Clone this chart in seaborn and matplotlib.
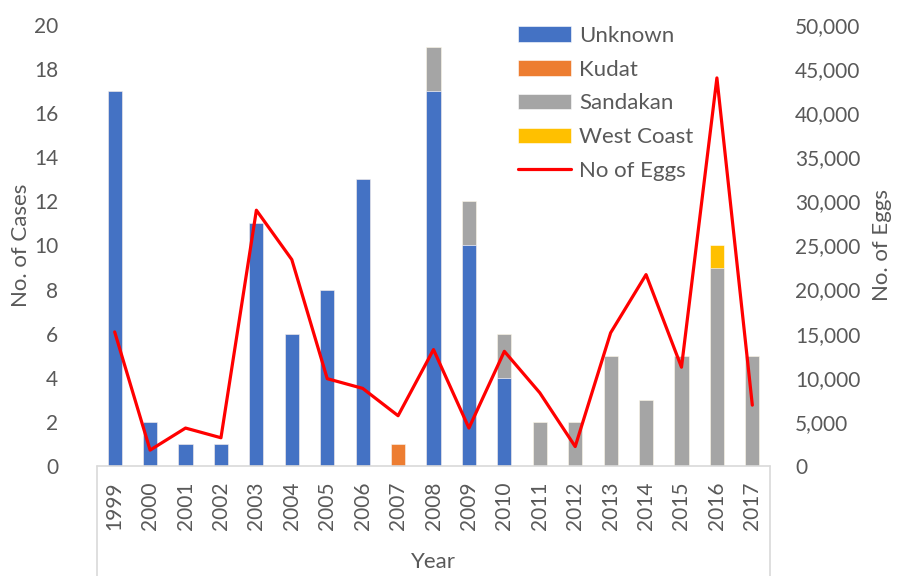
import numpy as np
import pandas as pd
import seaborn as sns
import matplotlib.pyplot as plt
from matplotlib.ticker import FuncFormatter

# Data
years = [str(y) for y in range(1999, 2018)]
unknown = [17, 2, 1, 1, 11, 6, 8, 13, 0, 17, 10, 4, 0, 0, 0, 0, 0, 0, 0]
kudat = [0, 0, 0, 0, 0, 0, 0, 0, 1, 0, 0, 0, 0, 0, 0, 0, 0, 0, 0]
sandakan = [0, 0, 0, 0, 0, 0, 0, 0, 0, 2, 2, 2, 2, 2, 5, 3, 5, 9, 5]
west_coast = [0, 0, 0, 0, 0, 0, 0, 0, 0, 0, 0, 0, 0, 0, 0, 0, 0, 1, 0]
eggs = [15200, 1800, 4300, 3200, 29000, 23400, 9900, 8800, 5700, 13200,
        4300, 13000, 8300, 2200, 15100, 21700, 11200, 44000, 6900]

df = pd.DataFrame({'Year': years, 'Unknown': unknown, 'Kudat': kudat,
                   'Sandakan': sandakan, 'West Coast': west_coast, 'Eggs': eggs})

series = ['Unknown', 'Kudat', 'Sandakan', 'West Coast']
colors = {'Unknown': '#4472C4', 'Kudat': '#ED7D31',
          'Sandakan': '#A5A5A5', 'West Coast': '#FFC000'}
cum = df[series].cumsum(axis=1)

sns.set_theme(style='white')
plt.rcParams['font.family'] = ['Lato', 'DejaVu Sans']
grey = '#595959'

fig = plt.figure(figsize=(9.2, 5.76), dpi=100)
ax = fig.add_axes([0.1054, 0.191, 0.7316, 0.7656])

# stacked bars: draw cumulative totals from top layer down
for s in reversed(series):
    sns.barplot(x=df['Year'], y=cum[s], color=colors[s], width=0.4,
                saturation=1, errorbar=None, label=s, ax=ax,
                edgecolor='white', linewidth=0.4)

ax2 = ax.twinx()
sns.lineplot(x=np.arange(len(years)), y=df['Eggs'], color='#FF0000', lw=2.3,
             label='No of Eggs', ax=ax2)

ax.set_xlim(-0.5, len(years) - 0.5)
ax.set_ylim(0, 20)
ax.set_yticks(range(0, 21, 2))
ax2.set_ylim(0, 50000)
ax2.set_yticks(range(0, 50001, 5000))
ax2.yaxis.set_major_formatter(FuncFormatter(lambda v, p: f'{int(v):,}'))

ax.tick_params(axis='x', labelrotation=90, length=0, pad=11, labelsize=15, labelcolor=grey)
ax.tick_params(axis='y', length=0, pad=28, labelsize=15, labelcolor=grey)
ax2.tick_params(axis='y', length=0, pad=18, labelsize=15, labelcolor=grey)

ax.set_xlabel('Year', fontsize=16, color=grey, labelpad=16)
ax.set_ylabel('No. of Cases', fontsize=16, color=grey, labelpad=2)
ax2.set_ylabel('No. of Eggs', fontsize=16, color=grey, labelpad=8)

for a in (ax, ax2):
    for side in ['top', 'left', 'right', 'bottom']:
        a.spines[side].set_visible(False)

# category axis box like the original
line_kw = dict(color='#D9D9D9', lw=1.2, clip_on=False, transform=ax.transAxes)
ax.plot([0, 1], [0, 0], **line_kw)
ax.plot([0, 0], [0, -0.25], **line_kw)
ax.plot([1, 1], [0, -0.25], **line_kw)

# legend
h1, l1 = ax.get_legend_handles_labels()
h2, l2 = ax2.get_legend_handles_labels()
ax.get_legend().remove()
ax2.get_legend().remove()
lookup = dict(zip(l1 + l2, h1 + h2))
order = series + ['No of Eggs']
fig.legend([lookup[k] for k in order], order, loc='upper left',
           bbox_to_anchor=(0.541, 0.99), frameon=False, fontsize=16,
           handlelength=2.4, labelspacing=0.62, handletextpad=0.35,
           labelcolor=grey)

fig.savefig('out.png', dpi=100)
